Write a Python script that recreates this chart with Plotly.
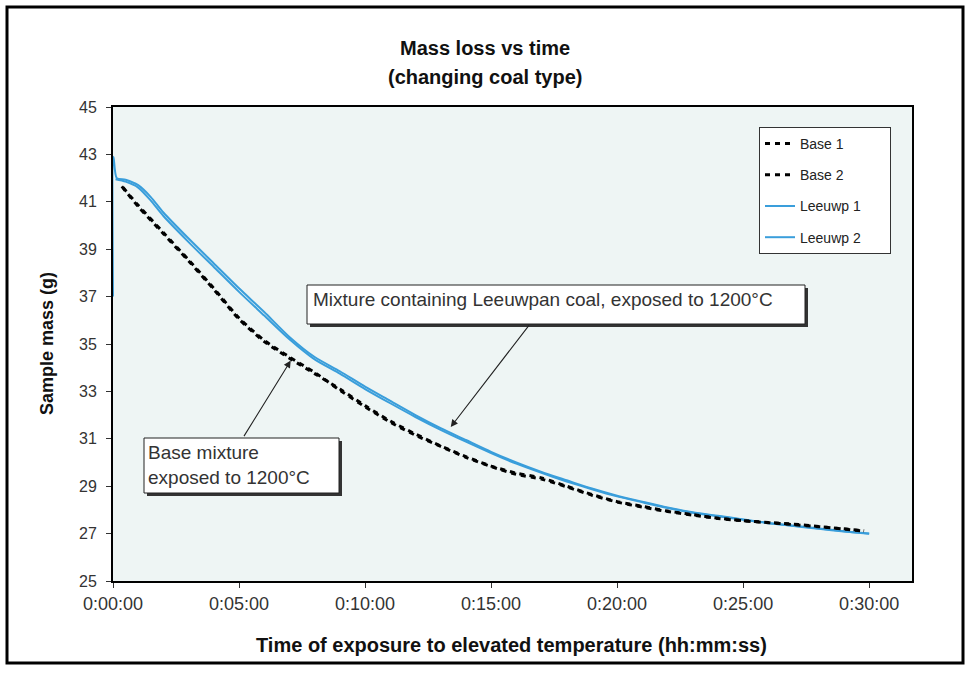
import plotly.graph_objects as go

# ---- data (time in minutes, mass in g) ----
tick_vals = [0, 5, 10, 15, 20, 25, 30]
tick_text = ["0:00:00", "0:05:00", "0:10:00", "0:15:00", "0:20:00", "0:25:00", "0:30:00"]
y_ticks = [25, 27, 29, 31, 33, 35, 37, 39, 41, 43, 45]

leeuwp1_t = [0, 0.02, 0.15, 0.5, 1.0, 1.5, 2.0, 3.0, 4.0, 5.0, 6.0, 7.0, 8.0, 9.0, 10.0,
             11.0, 12.0, 13.0, 14.0, 15.0, 16.0, 17.0, 18.0, 19.0, 20.0, 21.0, 22.0,
             23.0, 24.0, 25.0, 26.0, 27.0, 28.0, 29.0, 30.0]
leeuwp1_m = [37.0, 42.9, 42.0, 41.93, 41.7, 41.2, 40.55, 39.45, 38.4, 37.35, 36.35, 35.3,
             34.45, 33.85, 33.2, 32.6, 32.0, 31.45, 30.95, 30.45, 30.0, 29.6, 29.25, 28.9,
             28.6, 28.35, 28.1, 27.9, 27.75, 27.6, 27.45, 27.33, 27.22, 27.1, 27.0]

leeuwp2_t = [0.1, 0.5, 1.0, 1.5, 2.0, 3.0, 4.0, 5.0, 6.0, 7.0, 8.0, 9.0, 10.0,
             11.0, 12.0, 13.0, 14.0, 15.0, 16.0, 17.0, 18.0, 19.0, 20.0, 21.0, 22.0,
             23.0, 24.0, 25.0, 26.0, 27.0, 28.0, 29.0, 30.0]
leeuwp2_m = [41.95, 41.85, 41.6, 41.05, 40.4, 39.3, 38.25, 37.2, 36.2, 35.2,
             34.35, 33.75, 33.1, 32.5, 31.92, 31.38, 30.88, 30.4, 29.95, 29.56, 29.2, 28.87,
             28.57, 28.32, 28.08, 27.88, 27.73, 27.58, 27.44, 27.32, 27.2, 27.09, 26.99]

base1_t = [0.35, 1.0, 2.0, 3.0, 4.0, 5.0, 6.0, 7.0, 8.0, 9.0, 10.0, 11.0, 12.0, 13.0,
           14.0, 15.0, 16.0, 17.0, 18.0, 19.0, 20.0, 21.0, 22.0, 23.0, 24.0, 25.0,
           26.0, 27.0, 28.0, 29.0, 29.8]
base1_m = [41.65, 40.8, 39.65, 38.5, 37.3, 36.05, 35.1, 34.4, 33.75, 33.1, 32.4, 31.75,
           31.2, 30.7, 30.25, 29.85, 29.55, 29.35, 29.0, 28.65, 28.35, 28.15, 27.95, 27.8,
           27.65, 27.55, 27.47, 27.4, 27.3, 27.2, 27.12]

base2_t = [0.4, 1.0, 2.0, 3.0, 4.0, 5.0, 6.0, 7.0, 8.0, 9.0, 10.0, 11.0, 12.0, 13.0,
           14.0, 15.0, 16.0, 17.0, 18.0, 19.0, 20.0, 21.0, 22.0, 23.0, 24.0, 25.0,
           26.0, 27.0, 28.0, 29.0, 29.8]
base2_m = [41.6, 40.85, 39.7, 38.55, 37.35, 36.1, 35.15, 34.45, 33.8, 33.05, 32.35, 31.7,
           31.15, 30.68, 30.22, 29.83, 29.5, 29.3, 28.97, 28.62, 28.33, 28.12, 27.93, 27.78,
           27.64, 27.54, 27.46, 27.38, 27.29, 27.19, 27.1]

series_names = ["Base 1", "Base 2", "Leeuwp 1", "Leeuwp 2"]

FONT = "Liberation Sans, Arial, sans-serif"
BLUE = "#3a9edb"
PAD = "\u00a0" * 6  # widen legend box like the original

fig = go.Figure()
fig.add_trace(go.Scatter(x=leeuwp1_t, y=leeuwp1_m, mode="lines", name=series_names[2] + PAD,
                         line=dict(color=BLUE, width=2, shape="spline", smoothing=0.7),
                         legendgroup="c", legendrank=3))
fig.add_trace(go.Scatter(x=leeuwp2_t, y=leeuwp2_m, mode="lines", name=series_names[3] + PAD,
                         line=dict(color=BLUE, width=2, shape="spline", smoothing=0.7),
                         legendgroup="d", legendrank=4))
fig.add_trace(go.Scatter(x=base1_t, y=base1_m, mode="lines", name=series_names[0],
                         line=dict(color="black", width=3, dash="5px,5px",
                                   shape="spline", smoothing=0.7),
                         legendgroup="a", legendrank=1))
fig.add_trace(go.Scatter(x=base2_t, y=base2_m, mode="lines", name=series_names[1],
                         line=dict(color="black", width=3, dash="5px,5px",
                                   shape="spline", smoothing=0.7),
                         legendgroup="b", legendrank=2))

L, R, T, B = 113, 912, 107, 581
W, H = 971, 673


def px(x):
    return (x - L) / (R - L)


def py(y):
    return (B - y) / (B - T)


shapes = [
    # outer frame
    dict(type="rect", xref="paper", yref="paper", x0=px(7), x1=px(963), y0=py(663), y1=py(7),
         line=dict(color="black", width=3)),
    # Leeuwpan label box + shadow
    dict(type="rect", xref="paper", yref="paper", x0=px(310), x1=px(808), y0=py(327), y1=py(288),
         line=dict(width=0), fillcolor="#333333", layer="above"),
    dict(type="rect", xref="paper", yref="paper", x0=px(307), x1=px(805), y0=py(324), y1=py(285),
         line=dict(color="#222222", width=1), fillcolor="white", layer="above"),
    # Base label box + shadow
    dict(type="rect", xref="paper", yref="paper", x0=px(147), x1=px(342), y0=py(496), y1=py(441),
         line=dict(width=0), fillcolor="#333333", layer="above"),
    dict(type="rect", xref="paper", yref="paper", x0=px(144), x1=px(339), y0=py(493), y1=py(438),
         line=dict(color="#222222", width=1), fillcolor="white", layer="above"),
]

annotations = [
    dict(text="<b>Mass loss vs time</b>", xref="paper", yref="paper", x=px(485), y=py(48),
         xanchor="center", yanchor="middle",
         showarrow=False, font=dict(family=FONT, size=20, color="#111")),
    dict(text="<b>(changing coal type)</b>", xref="paper", yref="paper", x=px(485), y=py(77),
         xanchor="center", yanchor="middle",
         showarrow=False, font=dict(family=FONT, size=20, color="#111")),
    dict(text="<b>Sample mass (g)</b>", xref="paper", yref="paper", x=px(47), y=0.5,
         xanchor="center", yanchor="middle",
         textangle=-90, showarrow=False, font=dict(family=FONT, size=18, color="#111")),
    dict(text="<b>Time of exposure to elevated temperature (hh:mm:ss)</b>", xref="paper",
         yref="paper", x=px(511), y=py(645), xanchor="center", yanchor="middle",
         showarrow=False, font=dict(family=FONT, size=20, color="#111")),
    dict(text="Mixture containing Leeuwpan coal, exposed to 1200°C", xref="paper", yref="paper",
         x=px(311), y=py(299), xanchor="left", yanchor="middle", showarrow=False,
         font=dict(family=FONT, size=19, color="#333")),
    dict(text="Base mixture<br>exposed to 1200°C", xref="paper", yref="paper",
         x=px(146), y=py(465), xanchor="left", yanchor="middle", align="left", showarrow=False,
         font=dict(family=FONT, size=19, color="#333")),
    # arrows
    dict(text="", x=13.4, y=31.5, ax=16.55, ay=35.85, xref="x", yref="y", axref="x", ayref="y",
         showarrow=True, arrowhead=2, arrowsize=1.3, arrowwidth=1.1, arrowcolor="#222"),
    dict(text="", x=7.05, y=34.3, ax=5.16, ay=31.05, xref="x", yref="y", axref="x", ayref="y",
         showarrow=True, arrowhead=2, arrowsize=1.3, arrowwidth=1.1, arrowcolor="#222"),
]

fig.update_layout(
    width=W, height=H,
    margin=dict(l=L, r=W - R, t=T, b=H - B),
    paper_bgcolor="white",
    plot_bgcolor="#eef5f4",
    font=dict(family=FONT, size=15, color="#333"),
    shapes=shapes,
    annotations=annotations,
    showlegend=True,
    legend=dict(x=px(759), y=py(127), xanchor="left", yanchor="top",
                bgcolor="white", bordercolor="#333", borderwidth=1,
                font=dict(family=FONT, size=14, color="#222"),
                tracegroupgap=10, traceorder="grouped"),
)
fig.update_xaxes(range=[0, 31.7], tickvals=tick_vals, ticktext=tick_text, showgrid=False,
                 zeroline=False, showline=True, mirror=True, linecolor="black", linewidth=2,
                 ticks="outside", ticklen=5, tickcolor="#333",
                 tickfont=dict(family=FONT, size=18, color="#333"))
fig.update_yaxes(range=[25, 45], tickvals=y_ticks, showgrid=False, zeroline=False,
                 showline=True, mirror=True, linecolor="black", linewidth=2,
                 ticks="outside", ticklen=5, tickcolor="#333", ticklabelstandoff=6,
                 tickfont=dict(family=FONT, size=16, color="#333"))

fig.write_html("out.html")
